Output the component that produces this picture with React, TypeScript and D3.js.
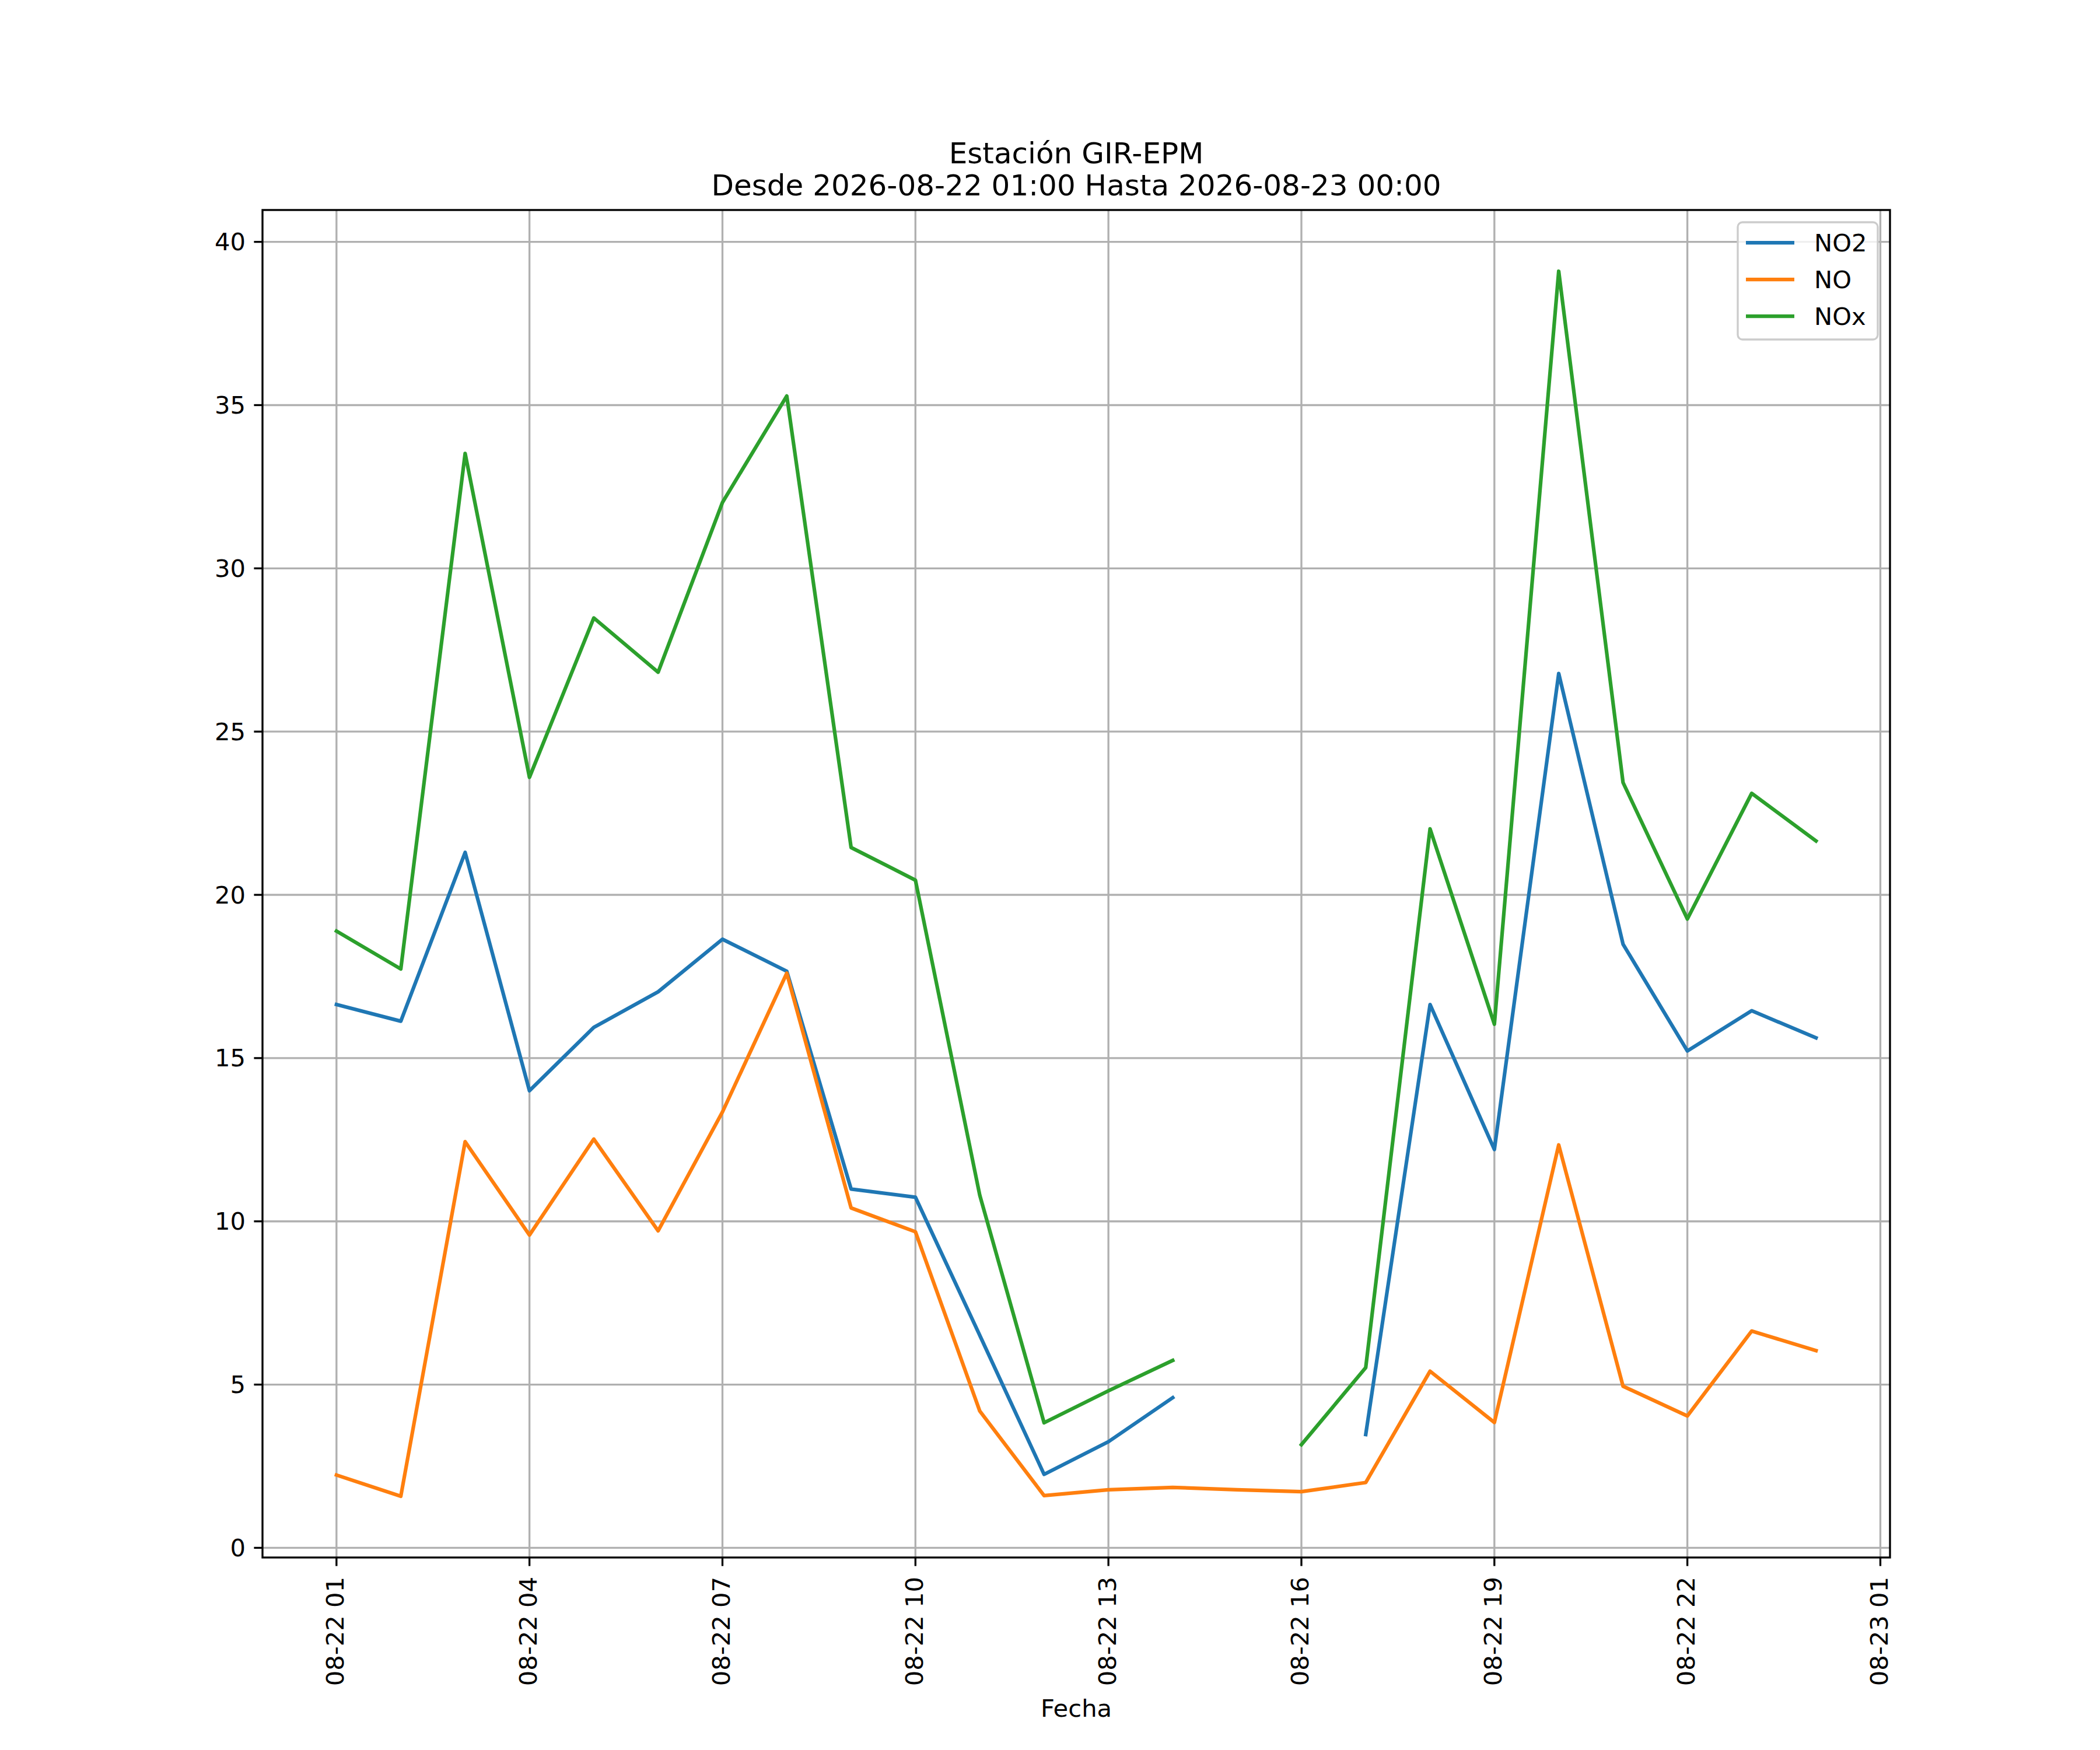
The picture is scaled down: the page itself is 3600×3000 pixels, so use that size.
import React, { useEffect, useRef } from 'react';
import * as d3 from 'd3';

// hourly readings, 2026-08-22 01:00 .. 2026-08-23 00:00
const horas = [
  '2026-08-22 01:00', '2026-08-22 02:00', '2026-08-22 03:00', '2026-08-22 04:00',
  '2026-08-22 05:00', '2026-08-22 06:00', '2026-08-22 07:00', '2026-08-22 08:00',
  '2026-08-22 09:00', '2026-08-22 10:00', '2026-08-22 11:00', '2026-08-22 12:00',
  '2026-08-22 13:00', '2026-08-22 14:00', '2026-08-22 15:00', '2026-08-22 16:00',
  '2026-08-22 17:00', '2026-08-22 18:00', '2026-08-22 19:00', '2026-08-22 20:00',
  '2026-08-22 21:00', '2026-08-22 22:00', '2026-08-22 23:00', '2026-08-23 00:00',
];

const no2: (number | null)[] = [
  16.64, 16.13, 21.30, 14.00, 15.94, 17.03, 18.64, 17.66,
  10.99, 10.74, 6.51, 2.25, 3.25, 4.60, null, null,
  3.47, 16.64, 12.20, 26.78, 18.49, 15.22, 16.45, 15.62,
];

const no: (number | null)[] = [
  2.23, 1.58, 12.44, 9.58, 12.52, 9.71, 13.35, 17.60,
  10.41, 9.68, 4.19, 1.60, 1.78, 1.85, 1.78, 1.72,
  2.00, 5.41, 3.84, 12.34, 4.95, 4.04, 6.64, 6.04,
];

const nox: (number | null)[] = [
  18.89, 17.73, 33.52, 23.60, 28.48, 26.82, 32.02, 35.28,
  21.45, 20.45, 10.80, 3.83, 4.81, 5.74, null, 3.16,
  5.52, 22.02, 16.04, 39.10, 23.44, 19.26, 23.11, 21.65,
];

const seriesNames = ['NO2', 'NO', 'NOx'];
const seriesColors = ['#1f77b4', '#ff7f0e', '#2ca02c'];
const yTickValues = [0, 5, 10, 15, 20, 25, 30, 35, 40];

const titulo = 'Estación GIR-EPM';
const subtitulo = 'Desde 2026-08-22 01:00 Hasta 2026-08-23 00:00';
const xLabel = 'Fecha';

function App() {
  const ref = useRef<SVGSVGElement>(null);

  const W = 3600, H = 3000;
  const m = { left: 450, right: 3240, top: 360, bottom: 2670 };
  const font = 'DejaVu Sans';
  const fs = 41.67;

  useEffect(() => {
    if (!ref.current) return;
    const svg = d3.select(ref.current);
    svg.selectAll('*').remove();

    const parse = d3.timeParse('%Y-%m-%d %H:%M');
    const fechas = horas.map(h => parse(h) as Date);
    const series = [no2, no, nox];

    // matplotlib style 5% margins
    const t0 = +fechas[0], t1 = +fechas[fechas.length - 1];
    const dt = (t1 - t0) * 0.05;
    const x = d3.scaleTime().domain([new Date(t0 - dt), new Date(t1 + dt)]).range([m.left, m.right]);

    const all = series.flat().filter(v => v != null) as number[];
    const lo = d3.min(all)!, hi = d3.max(all)!;
    const dv = (hi - lo) * 0.05;
    const y = d3.scaleLinear().domain([lo - dv, hi + dv]).range([m.bottom, m.top]);

    const xTicks = d3.timeHour.range(fechas[0], new Date(t1 + 2 * 3600e3), 3);
    const fmt = d3.timeFormat('%m-%d %H');

    const grid = svg.append('g').attr('stroke', '#b0b0b0').attr('stroke-width', 3.33);
    xTicks.forEach(t => {
      grid.append('line').attr('x1', x(t)).attr('x2', x(t)).attr('y1', m.top).attr('y2', m.bottom);
    });
    yTickValues.forEach(v => {
      grid.append('line').attr('x1', m.left).attr('x2', m.right).attr('y1', y(v)).attr('y2', y(v));
    });

    // lines
    const line = d3.line<{ t: Date; v: number | null }>()
      .defined(d => d.v != null)
      .x(d => x(d.t))
      .y(d => y(d.v as number));

    series.forEach((s, i) => {
      svg.append('path')
        .datum(fechas.map((t, k) => ({ t, v: s[k] })))
        .attr('fill', 'none')
        .attr('stroke', seriesColors[i])
        .attr('stroke-width', 6.25)
        .attr('stroke-linejoin', 'round')
        .attr('stroke-linecap', 'square')
        .attr('d', line);
    });

    // spines
    svg.append('rect')
      .attr('x', m.left).attr('y', m.top)
      .attr('width', m.right - m.left).attr('height', m.bottom - m.top)
      .attr('fill', 'none').attr('stroke', 'black').attr('stroke-width', 3.33);

    // y ticks
    const yAx = svg.append('g');
    yTickValues.forEach(v => {
      yAx.append('line').attr('x1', m.left - 14.6).attr('x2', m.left)
        .attr('y1', y(v)).attr('y2', y(v)).attr('stroke', 'black').attr('stroke-width', 3.33);
      yAx.append('text').attr('x', m.left - 29).attr('y', y(v)).attr('dy', '0.35em')
        .attr('text-anchor', 'end').attr('font-family', font).attr('font-size', fs)
        .text(String(v));
    });

    // x ticks (rotated labels)
    const xAx = svg.append('g');
    xTicks.forEach(t => {
      xAx.append('line').attr('x1', x(t)).attr('x2', x(t))
        .attr('y1', m.bottom).attr('y2', m.bottom + 14.6).attr('stroke', 'black').attr('stroke-width', 3.33);
      xAx.append('text')
        .attr('transform', `translate(${x(t)},${m.bottom + 33}) rotate(-90)`)
        .attr('dy', '0.3em')
        .attr('text-anchor', 'end').attr('font-family', font).attr('font-size', fs)
        .text(fmt(t));
    });

    const cx = (m.left + m.right) / 2;
    svg.append('text').attr('x', cx).attr('y', 2943).attr('text-anchor', 'middle')
      .attr('font-family', font).attr('font-size', fs).text(xLabel);

    svg.append('text').attr('x', cx).attr('y', 280).attr('text-anchor', 'middle')
      .attr('font-family', font).attr('font-size', 50).text(titulo);
    svg.append('text').attr('x', cx).attr('y', 335).attr('text-anchor', 'middle')
      .attr('font-family', font).attr('font-size', 50).text(subtitulo);

    // legend
    const lg = svg.append('g');
    lg.append('rect')
      .attr('x', 2979).attr('y', 381).attr('width', 240).attr('height', 201)
      .attr('rx', 8).attr('fill', 'white').attr('fill-opacity', 0.8)
      .attr('stroke', '#cccccc').attr('stroke-width', 3.33);
    seriesNames.forEach((n, i) => {
      const ry = 416 + i * 63;
      lg.append('line').attr('x1', 2993).attr('x2', 3076).attr('y1', ry).attr('y2', ry)
        .attr('stroke', seriesColors[i]).attr('stroke-width', 6.25);
      lg.append('text').attr('x', 3110).attr('y', ry).attr('dy', '0.35em')
        .attr('font-family', font).attr('font-size', fs).text(n);
    });
  });

  return (
    <svg
      ref={ref}
      width={W}
      height={H}
      style={{ position: 'absolute', left: 0, top: 0, background: 'white' }}
    />
  );
}

export default App;
